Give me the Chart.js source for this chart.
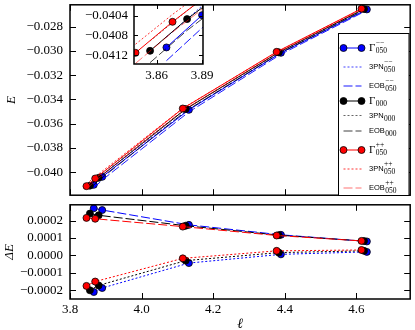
<!DOCTYPE html>
<html>
<head>
<meta charset="utf-8">
<script src="https://cdn.jsdelivr.net/npm/chart.js@4.4.0/dist/chart.umd.min.js"></script>
<style>
html, body { margin: 0; padding: 0; background: #fff; }
#wrap { position: relative; width: 415px; height: 330px; overflow: hidden; }
canvas { position: absolute; }
#top { left: 0; top: 0; width: 415px; height: 200px; }
#bot { left: 0; top: 200px; width: 415px; height: 130px; }
#ins { left: 70px; top: 0; width: 160px; height: 82px; }
</style>
</head>
<body>
<div id="wrap">
  <canvas id="top" width="415" height="200"></canvas>
  <canvas id="bot" width="415" height="130"></canvas>
  <canvas id="ins" width="160" height="82"></canvas>
</div>
<script>
// separation l for each spin configuration
const ellMinus = [3.8664, 3.8899, 4.132, 4.389, 4.629];
const ellZero  = [3.8556, 3.8800, 4.123, 4.383, 4.621];
const ellPlus  = [3.8460, 3.8704, 4.115, 4.377, 4.614];

// binding energy E
const gammaMinus = [-0.041043, -0.040386, -0.03486, -0.03016, -0.02658];
const gammaZero  = [-0.041112, -0.040467, -0.03480, -0.03012, -0.02655];
const gammaPlus  = [-0.041153, -0.040522, -0.03475, -0.03008, -0.02652];

const pnMinus = [-0.040833, -0.040199, -0.034816, -0.030166, -0.026600];
const pnZero  = [-0.040912, -0.040295, -0.034770, -0.030136, -0.026576];
const pnPlus  = [-0.040978, -0.040372, -0.034733, -0.030106, -0.026551];

const eobMinus = [-0.041313, -0.040646, -0.035035, -0.030278, -0.026660];
const eobZero  = [-0.041352, -0.040697, -0.034970, -0.030236, -0.026632];
const eobPlus  = [-0.041368, -0.040732, -0.034915, -0.030194, -0.026603];

// differences Delta E
const dEobMinus = [0.00027, 0.00026, 0.000175, 0.000118, 0.000080];
const dEobZero  = [0.00024, 0.00023, 0.000170, 0.000116, 0.000082];
const dEobPlus  = [0.000215, 0.00021, 0.000165, 0.000114, 0.000083];

const dPnMinus = [-0.00021, -0.000187, -0.000044, 0.000006, 0.000020];
const dPnZero  = [-0.00020, -0.000172, -0.000030, 0.000016, 0.000026];
const dPnPlus  = [-0.000175, -0.00015, -0.000017, 0.000026, 0.000031];

// ticks
const xTicks = [3.8, 4.0, 4.2, 4.4, 4.6];
const yTopTicks = [-0.040, -0.038, -0.036, -0.034, -0.032, -0.030, -0.028];
const yBotTicks = [-0.0002, -0.0001, 0.0, 0.0001, 0.0002];
const insXTicks = [3.86, 3.89];
const insYTicks = [-0.0412, -0.0408, -0.0404];

const SERIF = "'Liberation Serif', 'DejaVu Serif', serif";
const SANS = "'Liberation Sans', 'DejaVu Sans', sans-serif";
Chart.defaults.color = '#000';

const BLUE = '#0000ff', BLACK = '#000000', RED = '#ff0000';
const DOT = [2, 2], DASH = [9, 3];

function pts(xs, ys) {
    return xs.map((x, i) => ({ x: x, y: ys[i] }));
}

function fmt(v, d) {
    return (v < 0 ? '\u2212' : '') + Math.abs(v).toFixed(d);
}

function gammaSet(xs, ys, color) {
    return {
        data: pts(xs, ys), borderColor: color, borderWidth: 1,
        pointRadius: 3.5, pointBackgroundColor: color,
        pointBorderColor: '#000', pointBorderWidth: 0.8
    };
}

function modelSet(xs, ys, color, dash) {
    return { data: pts(xs, ys), borderColor: color, borderWidth: 1, borderDash: dash, pointRadius: 0 };
}

function energySets() {
    const list = [
        gammaSet(ellMinus, gammaMinus, BLUE),
        modelSet(ellMinus, pnMinus, 'rgba(0,0,255,0.75)', DOT),
        modelSet(ellMinus, eobMinus, 'rgba(0,0,255,0.9)', DASH),
        gammaSet(ellZero, gammaZero, BLACK),
        modelSet(ellZero, pnZero, 'rgba(0,0,0,0.6)', DOT),
        modelSet(ellZero, eobZero, 'rgba(0,0,0,0.75)', DASH),
        gammaSet(ellPlus, gammaPlus, RED),
        modelSet(ellPlus, pnPlus, 'rgba(255,0,0,0.8)', DOT),
        modelSet(ellPlus, eobPlus, 'rgba(255,0,0,0.55)', DASH)
    ];
    list.forEach((d, i) => d.order = list.length - i);
    return list;
}

function diffSets() {
    const list = [];
    [[ellMinus, dEobMinus, dPnMinus, BLUE], [ellZero, dEobZero, dPnZero, BLACK], [ellPlus, dEobPlus, dPnPlus, RED]]
        .forEach(s => {
            const a = gammaSet(s[0], s[1], s[3]); a.borderDash = DASH;
            const b = gammaSet(s[0], s[2], s[3]); b.borderDash = DOT;
            list.push(a, b);
        });
    list.forEach((d, i) => d.order = list.length - i);
    return list;
}

function fixTicks(arr) {
    return scale => { scale.ticks = arr.map(v => ({ value: v })); };
}

function fitWidth(w) {
    return scale => { scale.width = w; scale.paddingTop = 0; scale.paddingBottom = 0; };
}

function fitHeight(h) {
    return scale => { scale.height = h; scale.paddingLeft = 0; scale.paddingRight = 0; };
}

// inward ticks on all four sides + frame
const framePlugin = {
    id: 'frame',
    beforeDatasetsDraw(chart, args, opts) {
        if (!opts.fill) return;
        const a = chart.chartArea, ctx = chart.ctx;
        ctx.save();
        ctx.fillStyle = '#fff';
        ctx.fillRect(a.left, a.top, a.right - a.left, a.bottom - a.top);
        ctx.restore();
    },
    afterDatasetsDraw(chart, args, opts) {
        const a = chart.chartArea, ctx = chart.ctx;
        const xs = chart.scales.x, ys = chart.scales.y;
        const len = opts.len;
        ctx.save();
        ctx.strokeStyle = '#000';
        ctx.lineWidth = 1;
        ctx.beginPath();
        opts.xTicks.forEach(v => {
            const p = Math.round(xs.getPixelForValue(v)) + 0.5;
            ctx.moveTo(p, a.bottom); ctx.lineTo(p, a.bottom - len);
            ctx.moveTo(p, a.top); ctx.lineTo(p, a.top + len);
        });
        opts.yTicks.forEach(v => {
            const p = Math.round(ys.getPixelForValue(v)) + 0.5;
            ctx.moveTo(a.left, p); ctx.lineTo(a.left + len, p);
            ctx.moveTo(a.right, p); ctx.lineTo(a.right - len, p);
        });
        ctx.stroke();
        ctx.lineWidth = opts.lw;
        ctx.strokeRect(a.left, a.top, a.right - a.left, a.bottom - a.top);
        ctx.restore();
    }
};

// legend entries
const legendItems = [
    { kind: 'gamma', color: BLUE, base: '\u0393', sub: '050', sup: '\u2212\u2212', y: 48 },
    { kind: 'line', color: 'rgba(0,0,255,0.75)', dash: DOT, base: '3PN', sub: '050', sup: '\u2212\u2212', y: 67 },
    { kind: 'line', color: 'rgba(0,0,255,0.9)', dash: DASH, base: 'EOB', sub: '050', sup: '\u2212\u2212', y: 86 },
    { kind: 'gamma', color: BLACK, base: '\u0393', sub: '000', sup: '', y: 101 },
    { kind: 'line', color: 'rgba(0,0,0,0.6)', dash: DOT, base: '3PN', sub: '000', sup: '', y: 115.5 },
    { kind: 'line', color: 'rgba(0,0,0,0.75)', dash: DASH, base: 'EOB', sub: '000', sup: '', y: 131 },
    { kind: 'gamma', color: RED, base: '\u0393', sub: '050', sup: '++', y: 150 },
    { kind: 'line', color: 'rgba(255,0,0,0.8)', dash: DOT, base: '3PN', sub: '050', sup: '++', y: 169 },
    { kind: 'line', color: 'rgba(255,0,0,0.55)', dash: DASH, base: 'EOB', sub: '050', sup: '++', y: 188 }
];

const legendPlugin = {
    id: 'boxLegend',
    afterDraw(chart) {
        const ctx = chart.ctx;
        ctx.save();
        ctx.fillStyle = '#fff';
        ctx.fillRect(338.5, 33.5, 70.5, 162);
        ctx.strokeStyle = '#000';
        ctx.lineWidth = 1;
        ctx.strokeRect(338.5, 33.5, 70.5, 162);
        legendItems.forEach(it => {
            const y = it.y;
            ctx.strokeStyle = it.color;
            ctx.lineWidth = 1;
            ctx.setLineDash(it.kind === 'gamma' ? [] : it.dash);
            ctx.beginPath();
            ctx.moveTo(343.5, y); ctx.lineTo(361.5, y);
            ctx.stroke();
            ctx.setLineDash([]);
            if (it.kind === 'gamma') {
                [343.5, 361.5].forEach(px => {
                    ctx.beginPath();
                    ctx.arc(px, y, 3.5, 0, Math.PI * 2);
                    ctx.fillStyle = it.color;
                    ctx.fill();
                    ctx.lineWidth = 0.8;
                    ctx.strokeStyle = '#000';
                    ctx.stroke();
                });
            }
            ctx.fillStyle = '#000';
            ctx.textBaseline = 'middle';
            ctx.textAlign = 'left';
            ctx.font = it.kind === 'gamma' ? '11px ' + SERIF : '7.5px ' + SANS;
            ctx.fillText(it.base, 369, y);
            const w = ctx.measureText(it.base).width + 0.5;
            ctx.font = '7.5px ' + SERIF;
            ctx.fillText(it.sub, 369 + w, y + 3.5);
            if (it.sup) ctx.fillText(it.sup, 369 + w, y - 4.5);
        });
        ctx.restore();
    }
};

const tickFont = { family: SERIF, size: 13 };

// upper panel: E(l)
new Chart(document.getElementById('top'), {
    type: 'line',
    data: { datasets: energySets() },
    plugins: [framePlugin, legendPlugin],
    options: {
        responsive: false, animation: false, events: [],
        layout: { padding: { top: 2, right: 2, bottom: 1, left: 0 } },
        plugins: {
            legend: { display: false }, tooltip: { enabled: false },
            frame: { len: 6, lw: 1.5, xTicks: xTicks, yTicks: yTopTicks }
        },
        scales: {
            x: { type: 'linear', min: 3.8, max: 4.75, display: false },
            y: {
                min: -0.0419, max: -0.0262,
                afterBuildTicks: fixTicks(yTopTicks),
                afterFit: fitWidth(70),
                grid: { display: false, drawTicks: false }, border: { display: false },
                ticks: { font: tickFont, padding: 7, callback: v => fmt(v, 3) },
                title: { display: true, text: 'E', font: { family: SERIF, size: 13, style: 'italic' }, padding: { top: 4, bottom: 0 } }
            }
        }
    }
});

// lower panel: Delta E(l)
new Chart(document.getElementById('bot'), {
    type: 'line',
    data: { datasets: diffSets() },
    plugins: [framePlugin],
    options: {
        responsive: false, animation: false, events: [],
        layout: { padding: { top: 0, right: 2, bottom: 0, left: 0 } },
        plugins: {
            legend: { display: false }, tooltip: { enabled: false },
            frame: { len: 6, lw: 1.5, xTicks: xTicks, yTicks: yBotTicks }
        },
        scales: {
            x: {
                type: 'linear', min: 3.8, max: 4.75,
                afterBuildTicks: fixTicks(xTicks),
                afterFit: fitHeight(31),
                grid: { display: false, drawTicks: false }, border: { display: false },
                ticks: { font: tickFont, padding: 3, maxRotation: 0, callback: v => fmt(v, 1) },
                title: { display: true, text: '\u2113', font: { family: SERIF, size: 14, style: 'italic' }, padding: { top: 0, bottom: -3 } }
            },
            y: {
                min: -0.00025, max: 0.00029,
                afterBuildTicks: fixTicks(yBotTicks),
                afterFit: fitWidth(70),
                grid: { display: false, drawTicks: false }, border: { display: false },
                ticks: { font: tickFont, padding: 7, callback: v => fmt(v, 4) },
                title: { display: true, text: '\u0394E', font: { family: SERIF, size: 13, style: 'italic' }, padding: { top: 2, bottom: 0 } }
            }
        }
    }
});

// inset zoom on the first points
new Chart(document.getElementById('ins'), {
    type: 'line',
    data: { datasets: energySets() },
    plugins: [framePlugin],
    options: {
        responsive: false, animation: false, events: [],
        layout: { padding: { top: 5, right: 27, bottom: 0, left: 0 } },
        plugins: {
            legend: { display: false }, tooltip: { enabled: false },
            frame: { len: 4, lw: 1.5, fill: true, xTicks: insXTicks, yTicks: insYTicks }
        },
        scales: {
            x: {
                type: 'linear', min: 3.845, max: 3.8905,
                afterBuildTicks: fixTicks(insXTicks),
                afterFit: fitHeight(18),
                grid: { display: false, drawTicks: false }, border: { display: false },
                ticks: { font: tickFont, padding: 4, maxRotation: 0, callback: v => fmt(v, 2) }
            },
            y: {
                min: -0.04138, max: -0.04018,
                afterBuildTicks: fixTicks(insYTicks),
                afterFit: fitWidth(64),
                grid: { display: false, drawTicks: false }, border: { display: false },
                ticks: { font: tickFont, padding: 6, callback: v => fmt(v, 4) }
            }
        }
    }
});
</script>
</body>
</html>
